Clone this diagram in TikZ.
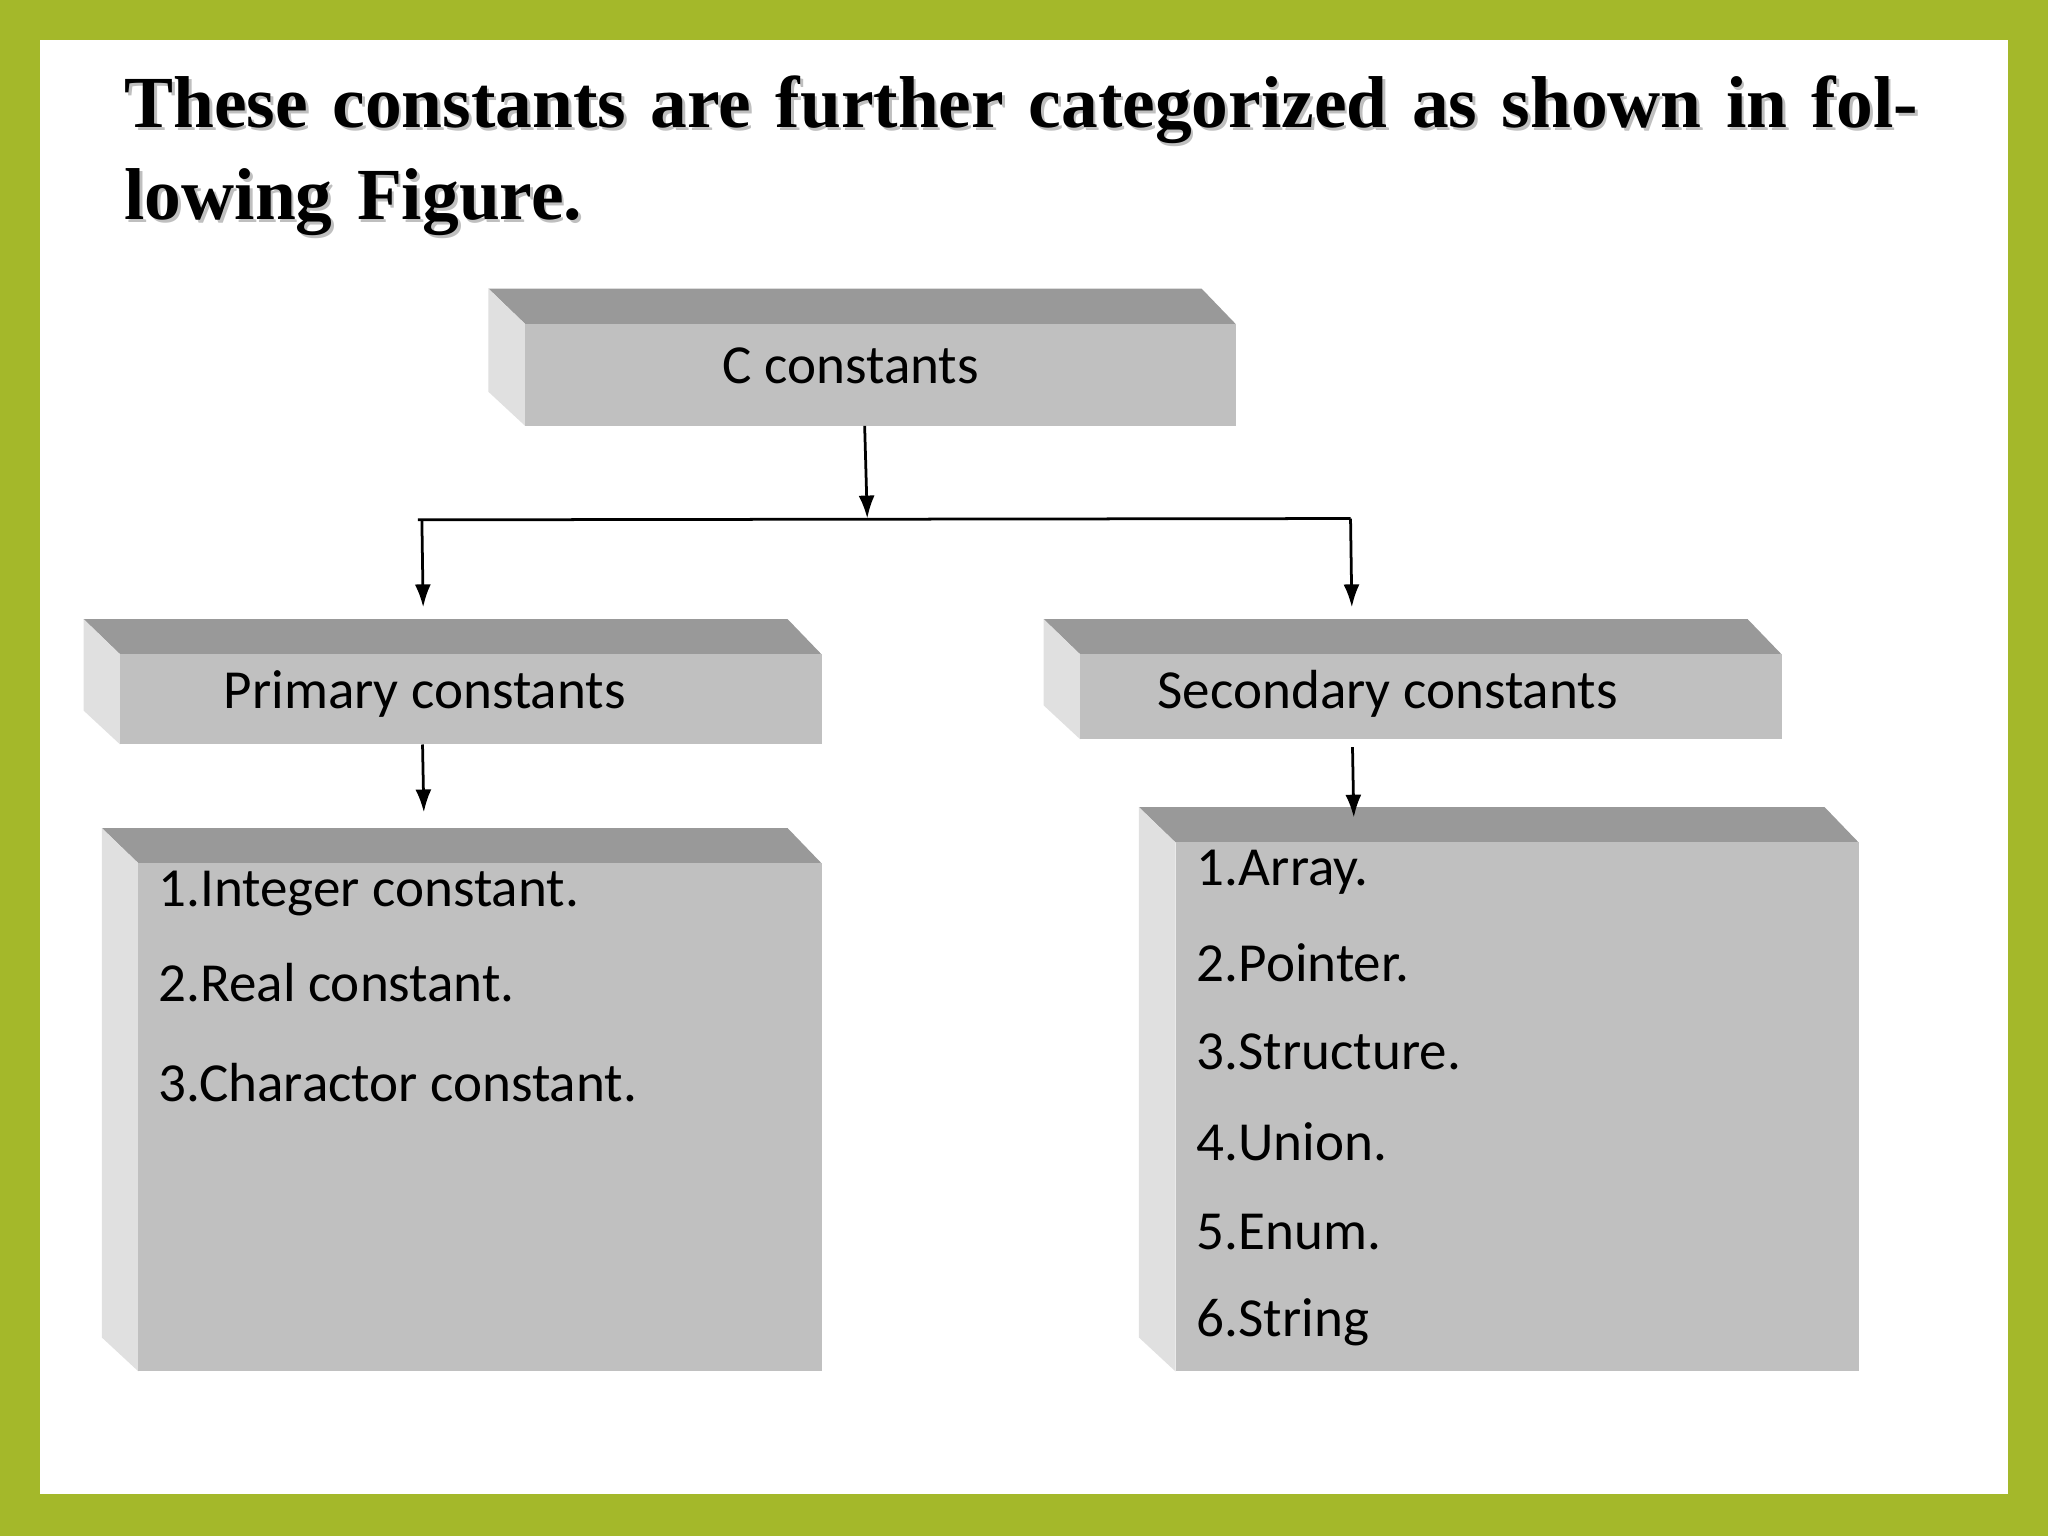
\documentclass[tikz,border=0pt]{standalone}
\usepackage{fontspec}
\setmainfont{Carlito}
\newfontfamily\titlefont{Liberation Serif}
\usetikzlibrary{arrows.meta,calc}
\definecolor{frame}{HTML}{A4B82A}
\definecolor{topf}{HTML}{999999}
\definecolor{leftf}{HTML}{E0E0E0}
\definecolor{frontf}{HTML}{C0C0C0}
\newcommand\bevbox[5]{%
  \fill[topf] (#2,#3) -- ({#4-26},#3) -- (#4,{#3+27}) -- ({#2+28},{#3+27}) -- cycle;
  \fill[leftf] (#2,#3) -- ({#2+28},{#3+27}) -- ({#2+28},#5) -- (#2,{#5-26}) -- cycle;
  \fill[frontf] ({#2+28},{#3+27}) rectangle (#4,#5);
  \coordinate (#1-t) at ({(#2+#4)/2},#3);
  \coordinate (#1-b) at ({(#2+#4)/2},#5);
}
\tikzset{lbl/.style={font=\fontsize{24}{28}\selectfont,anchor=west,inner sep=0pt},
  arr/.style={-{Latex[length=10pt,width=7pt]},line width=1.2pt}}
\begin{document}
\begin{tikzpicture}[x=0.02cm,y=-0.02cm]
\fill[frame] (0,0) rectangle (1568,1176);
\fill[white] (31,31) rectangle (1537,1144);
\useasboundingbox (0,0) rectangle (1568,1176);
\foreach \o/\c in {2/gray!50,0/black}{
\node[anchor=north west,inner sep=0pt,align=left,text width=27.8cm,text=\c,font=\titlefont\bfseries\fontsize{32}{40}\selectfont] (title) at (95+\o,58+\o) {These constants are further categorized as shown in following Figure.};}
\bevbox{c}{374}{221}{946}{326}
\bevbox{p}{64}{474}{629}{570}
\bevbox{s}{799}{474}{1364}{566}
\bevbox{pl}{78}{634}{629}{1050}
\bevbox{sl}{872}{618}{1423}{1050}
\node[lbl] (ct) at (553,280) {C constants};
\node[lbl] (pt) at (171,531) {Primary constants};
\node[lbl] (st) at (886,531) {Secondary constants};
\node[lbl] (pl1) at (121,684) {1.Integer constant.};
\node[lbl] (pl2) at (121,752) {2.Real constant.};
\node[lbl] (pl3) at (121,829) {3.Charactor constant.};
\foreach \t [count=\i] in {1.Array.,2.Pointer.,3.Structure.,4.Union.,5.Enum.,6.String}{
  \node[lbl] (sl\i) at (916,{668+(\i-1)*68.8}) {\t};}
\coordinate (j) at (664,397);
\coordinate (jl) at (320,398);
\coordinate (jr) at (1034,397);
\coordinate (pa) at (324,465);
\coordinate (sa) at (1035,465);
\draw[arr] ($(c-b)+(2,0)$) -- (j);
\draw[line width=1.2pt] (jl) -- (jr);
\draw[arr] ($(jl)+(3,0)$) -- (pa);
\draw[arr] (jr) -- (sa);
\draw[arr] ($(p-b)+(-23,0)$) -- ($(pl-t)+(-29,-12)$);
\draw[arr] ($(s-b)+(-46,6)$) -- ($(sl-t)+(-111,8)$);
\end{tikzpicture}
\end{document}
